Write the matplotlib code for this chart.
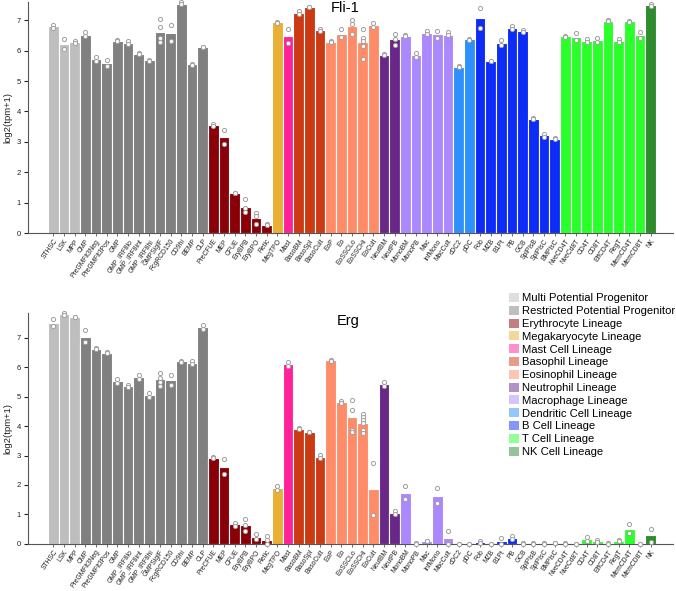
import matplotlib
matplotlib.use("Agg")
import matplotlib.pyplot as plt
from matplotlib.patches import Patch
import numpy as np

plt.rcParams['font.family'] = ['Liberation Sans', 'DejaVu Sans']

categories = ["STHSC", "LSK", "MPP", "CMP", "PreGMFlt3Neg", "PreGMFlt3Pos", "GMP",
              "GMP_IRF8lo", "GMP_IRF8int", "GMP_IRF8hi", "GMPSiglF", "FcgRCD150", "CD9hi",
              "BEMP", "CLP", "PreCFUE", "MEP", "CFUE", "EryBPB", "EryBPO", "Retic", "MegTPO",
              "Mast", "BasoBM", "BasoSpl", "BasoCult", "EoP", "Eo", "EoSSCLo", "EoSSCHi",
              "EoCult", "NeutBM", "NeutPB", "MonoBM", "MonoPB", "Mac", "InfMono", "MacCult",
              "cDC2", "pDC", "Fob", "MZB", "B1Pt", "PB", "GCB", "SplPlsB", "SplPlsC", "BMPlsC",
              "NveCD4T", "NveCd8T", "CD4T", "CD8T", "EffCD4T", "RegT", "MemCD4T", "MemCD8T", "NK"]

lineages = ["Multi Potential Progenitor", "Restricted Potential Progenitor", "Erythrocyte Lineage",
            "Megakaryocyte Lineage", "Mast Cell Lineage", "Basophil Lineage", "Eosinophil Lineage",
            "Neutrophil Lineage", "Macrophage Lineage", "Dendritic Cell Lineage", "B Cell Lineage",
            "T Cell Lineage", "NK Cell Lineage"]
lineage_sizes = [3, 12, 6, 1, 1, 3, 5, 2, 5, 2, 8, 8, 1]
lineage_colors = ["#bebebe", "#808080", "#8a0008", "#eab034", "#ff2299", "#cc3a14", "#ff8c69",
                  "#692788", "#ab88fc", "#2e90fa", "#0d2cf5", "#2bff2b", "#2e8b2e"]

fli_values = [6.80, 6.21, 6.29, 6.53, 5.72, 5.58, 6.33, 6.26, 5.90, 5.68, 6.61, 6.59, 7.55, 5.55, 6.12,
              3.54, 3.16, 1.31, 0.86, 0.48, 0.27,
              6.93, 6.48, 7.25, 7.43, 6.67,
              6.29, 6.54, 6.82, 6.28, 6.85,
              5.84, 6.37,
              6.49, 5.85, 6.58, 6.54, 6.53,
              5.45, 6.37,
              7.08, 5.66, 6.26, 6.76, 6.65, 3.76, 3.21, 3.10,
              6.47, 6.46, 6.33, 6.35, 6.98, 6.32, 6.96, 6.51,
              7.49]

fli_replicates = [[6.85, 6.76], [6.37, 6.04], [6.32, 6.26], [6.60, 6.48], [5.80, 5.66], [5.68, 5.50],
                  [6.34, 6.32], [6.33, 6.22], [5.91, 5.89], [5.68, 5.66], [7.03, 6.78, 6.40, 6.27],
                  [6.84, 6.31], [7.61, 7.52], [5.56, 5.54], [6.13, 6.11],
                  [3.57, 3.52], [3.39, 2.93], [1.32, 1.30], [1.12, 0.81, 0.68], [0.65, 0.57, 0.30], [0.30, 0.26],
                  [6.94, 6.92], [6.70, 6.26], [7.30, 7.22], [7.45, 7.42], [6.70, 6.64],
                  [6.32, 6.27], [6.70, 6.46], [7.02, 6.87, 6.56], [6.70, 6.43, 6.32, 6.15, 5.74], [6.91, 6.78],
                  [5.88, 5.85], [6.55, 6.37, 6.18],
                  [6.51, 6.48], [5.91, 5.80], [6.63, 6.54], [6.65, 6.42], [6.61, 6.50],
                  [5.48, 5.45], [6.38, 6.36],
                  [7.40, 6.75], [5.67, 5.65], [6.35, 6.18], [6.82, 6.70], [6.67, 6.61], [3.77, 3.75], [3.25, 3.17], [3.11, 3.09],
                  [6.47, 6.45], [6.58, 6.35], [6.37, 6.28], [6.42, 6.27], [7.00, 6.97], [6.37, 6.28], [6.98, 6.95], [6.61, 6.40],
                  [7.55, 7.47]]

erg_values = [7.52, 7.82, 7.71, 7.05, 6.64, 6.50, 5.53, 5.35, 5.67, 5.05, 5.62, 5.56, 6.20, 6.16, 7.36,
              2.93, 2.62, 0.66, 0.64, 0.24, 0.12,
              1.88, 6.10, 3.91, 3.80, 2.96,
              6.24, 4.82, 4.31, 4.12, 1.86,
              5.42, 1.05,
              1.73, 0.01, 0.09, 1.64, 0.20,
              0.0, 0.0,
              0.06, 0.0, 0.08, 0.20, 0.01, 0.01, 0.01, 0.02,
              0.01, 0.0, 0.16, 0.08, 0.01, 0.10, 0.51, 0.0,
              0.28]

erg_replicates = [[7.63, 7.40], [7.86, 7.79], [7.72, 7.70], [7.26, 6.86], [6.66, 6.62], [6.51, 6.49],
                  [5.59, 5.46], [5.41, 5.32], [5.75, 5.60], [5.12, 5.00], [5.80, 5.65, 5.50, 5.37],
                  [5.73, 5.40], [6.21, 6.19], [6.21, 6.12], [7.43, 7.30],
                  [2.95, 2.92], [2.89, 2.36], [0.72, 0.61], [0.85, 0.64, 0.43], [0.32, 0.17], [0.27, 0.11, 0.0],
                  [1.95, 1.82], [6.18, 6.04], [3.92, 3.90], [3.81, 3.79], [3.02, 2.91],
                  [6.25, 6.23], [4.85, 4.79], [4.88, 4.56, 3.88, 3.79], [4.42, 4.31, 4.20, 4.10, 3.88, 3.76], [2.76, 0.96],
                  [5.51, 5.35], [1.12, 1.00],
                  [1.95, 1.52], [0.01, 0.0], [0.10, 0.08], [1.88, 1.40], [0.42, 0.0],
                  [0.0, 0.0], [0.0, 0.0],
                  [0.10, 0.02], [0.0, 0.0], [0.18, 0.0], [0.26, 0.16], [0.01, 0.0], [0.01, 0.0], [0.01, 0.0], [0.03, 0.01],
                  [0.01, 0.0], [0.0, 0.0], [0.23, 0.09], [0.11, 0.05], [0.01, 0.0], [0.11, 0.09], [0.66, 0.37], [0.0, 0.0],
                  [0.50, 0.06]]

bar_colors = []
for c, n in zip(lineage_colors, lineage_sizes):
    bar_colors += [c] * n

W, H = 676, 591
fig = plt.figure(figsize=(W / 100, H / 100), dpi=100)

def make_axes(rect, values, reps, ymax, title, title_xy):
    ax = fig.add_axes(rect)
    x = np.arange(len(categories))
    ax.bar(x, values, width=1.0, color=bar_colors, edgecolor="white", linewidth=0.8, zorder=2)
    for i, r in enumerate(reps):
        ax.scatter([i] * len(r), r, s=9, facecolor="white", edgecolor="#a0a0a0",
                   linewidths=0.7, zorder=3, clip_on=False)
    ax.set_xlim(-2.37, 58.1)
    ax.set_ylim(0, ymax)
    ax.set_yticks(range(0, 8))
    ax.set_xticks(x)
    ax.set_xticklabels(categories, rotation=55, ha="right", va="top", rotation_mode="anchor",
                       fontsize=4.9, color="#222222")
    ax.tick_params(axis="y", labelsize=5.5, length=3, width=0.8, colors="#222222", pad=2)
    ax.tick_params(axis="x", length=2.5, width=0.6, colors="#555555", pad=1, labelcolor="#222222")
    for s in ["top", "right"]:
        ax.spines[s].set_visible(False)
    for s in ["left", "bottom"]:
        ax.spines[s].set_color("#555555")
        ax.spines[s].set_linewidth(0.8)
    ax.set_ylabel("log2(tpm+1)", fontsize=6.8, labelpad=3, color="#222222")
    fig.text(title_xy[0] / W, 1 - title_xy[1] / H, title, fontsize=10.5, ha="center", va="center")
    return ax

ax1 = make_axes([28 / W, 1 - 233 / H, 645 / W, 231 / H], fli_values, fli_replicates, 7.6,
                "Fli-1", (345, 8))
ax2 = make_axes([28 / W, 1 - 543.7 / H, 645 / W, 231 / H], erg_values, erg_replicates, 7.86,
                "Erg", (348, 321))

handles = [Patch(facecolor=c, alpha=0.5, edgecolor="none") for c in lineage_colors]
fig.legend(handles, lineages, loc="upper left", bbox_to_anchor=(509 / W, 1 - 293 / H),
           frameon=False, fontsize=8.1, handlelength=0.85, handleheight=0.85,
           handletextpad=0.3, labelspacing=0.215, borderpad=0.0, borderaxespad=0.0)

fig.savefig("out.png", dpi=100)
